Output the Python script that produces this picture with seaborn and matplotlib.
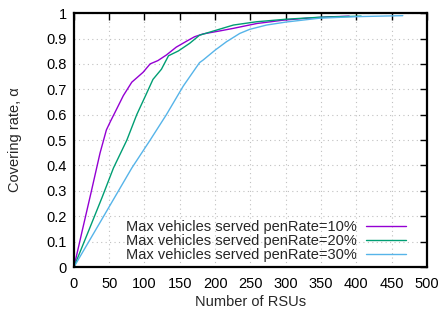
import matplotlib
matplotlib.use("Agg")
import matplotlib.pyplot as plt
import seaborn as sns
import pandas as pd
from matplotlib.ticker import FuncFormatter

# Data
p10_x = [0, 12, 24, 37, 46, 52, 58, 70, 82, 98, 108, 119, 131, 145, 160, 171, 183, 207, 226, 259, 296, 330, 360, 390]
p10_y = [0, 0.146, 0.29, 0.449, 0.54, 0.575, 0.608, 0.675, 0.728, 0.767, 0.80, 0.813, 0.835, 0.866, 0.89, 0.907, 0.918, 0.93, 0.94, 0.959, 0.972, 0.98, 0.985, 0.988]

p20_x = [0, 20, 40, 56, 75, 89, 101, 112, 124, 134, 148, 164, 178, 202, 226, 259, 301, 350, 407]
p20_y = [0, 0.137, 0.275, 0.39, 0.50, 0.60, 0.672, 0.739, 0.779, 0.832, 0.851, 0.881, 0.913, 0.933, 0.953, 0.966, 0.976, 0.984, 0.988]

p30_x = [0, 40, 82, 108, 131, 155, 178, 183, 200, 216, 235, 249, 273, 301, 348, 400, 466]
p30_y = [0, 0.19, 0.39, 0.50, 0.60, 0.713, 0.805, 0.815, 0.854, 0.887, 0.920, 0.936, 0.953, 0.965, 0.98, 0.986, 0.99]

labels = ["Max vehicles served penRate=10%",
          "Max vehicles served penRate=20%",
          "Max vehicles served penRate=30%"]
colors = ["#9400d3", "#009e73", "#56b4e9"]

x_ticks = list(range(0, 501, 50))
y_ticks = [0, 0.1, 0.2, 0.3, 0.4, 0.5, 0.6, 0.7, 0.8, 0.9, 1.0]

frames = []
for xs, ys, lab in [(p10_x, p10_y, labels[0]), (p20_x, p20_y, labels[1]), (p30_x, p30_y, labels[2])]:
    frames.append(pd.DataFrame({"x": xs, "y": ys, "series": lab}))
df = pd.concat(frames, ignore_index=True)

sns.set_style("white")
plt.rcParams['font.family'] = ['Liberation Sans', 'DejaVu Sans']
plt.rcParams['font.size'] = 10

fig = plt.figure(figsize=(4.4, 3.12), dpi=100)
ax = fig.add_axes([0.168, 0.144, 0.802, 0.814])

sns.lineplot(data=df, x="x", y="y", hue="series", hue_order=labels,
             palette=colors, linewidth=1.0, ax=ax, sort=False,
             estimator=None)

ax.set_xlim(0, 500)
ax.set_ylim(0, 1)
ax.set_xticks(x_ticks)
ax.set_yticks(y_ticks)
ax.yaxis.set_major_formatter(FuncFormatter(lambda v, p: ("%g" % round(v, 2))))
ax.grid(True, color="#c0c0c0", linestyle=(0, (1, 3)), linewidth=0.8)
ax.tick_params(direction="in", length=5, width=1, top=True, right=True,
               labelsize=10.5, colors="black")
ax.tick_params(axis="x", pad=7)
ax.tick_params(axis="y", pad=5)
for s in ax.spines.values():
    s.set_linewidth(1.6)
    s.set_color("black")

ax.set_xlabel("Number of RSUs", fontsize=10.5, labelpad=3)
ax.set_ylabel("Covering rate, α", fontsize=10.5, labelpad=18)

leg = ax.legend(loc="lower right", frameon=False, markerfirst=False,
                fontsize=10.5, handlelength=2.75, handletextpad=0.65,
                labelspacing=0.0, borderaxespad=0.6,
                bbox_to_anchor=(0.983, -0.039))

fig.savefig("out.png", dpi=100)
